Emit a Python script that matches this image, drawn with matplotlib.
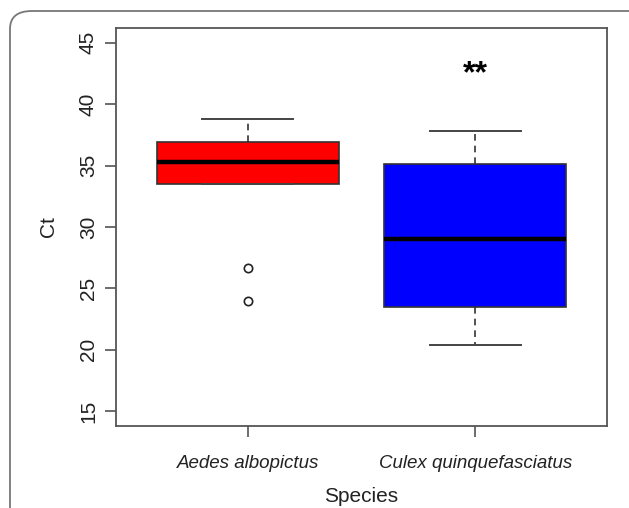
import matplotlib
matplotlib.use("Agg")
import matplotlib.pyplot as plt
from matplotlib.patches import FancyBboxPatch

plt.rcParams['font.family'] = ['Liberation Sans', 'DejaVu Sans']

# box statistics
species = ["Aedes albopictus", "Culex quinquefasciatus"]
q1 = [33.5, 23.5]
med = [35.3, 29.0]
q3 = [36.9, 35.1]
whislo = [33.5, 20.4]
whishi = [38.8, 37.8]
fliers = [[26.7, 24.0], []]
colors = ["#ff0000", "#0000ff"]
yticks = [15, 20, 25, 30, 35, 40, 45]
signif = "**"
signif_y = 42.4

fig = plt.figure(figsize=(6.29, 5.08), dpi=100)
ax = fig.add_axes([116/629, 1-426/508, (607-116)/629, (426-28)/508])

stats = []
for i in range(len(species)):
    stats.append(dict(label=species[i], q1=q1[i], med=med[i], q3=q3[i],
                      whislo=whislo[i], whishi=whishi[i], fliers=fliers[i]))

bp = ax.bxp(stats, positions=[1, 2], widths=0.8, patch_artist=True,
            boxprops=dict(edgecolor="#333333", linewidth=1.2),
            medianprops=dict(color="black", linewidth=3.2, solid_capstyle="butt"),
            whiskerprops=dict(color="#333333", linewidth=1.2, linestyle=(0, (4, 3))),
            capprops=dict(color="#444444", linewidth=1.4),
            capwidths=0.4,
            flierprops=dict(marker="o", markersize=6, markerfacecolor="none",
                            markeredgecolor="#222222", markeredgewidth=1.2))
for patch, c in zip(bp["boxes"], colors):
    patch.set_facecolor(c)

ax.text(2, signif_y, signif, ha="center", va="center", fontsize=23, fontweight="bold")

ax.set_xlim(0.42, 2.58)
ax.set_ylim(13.8, 46.2)
ax.set_yticks(yticks)
ax.set_yticklabels([str(t) for t in yticks], rotation=90, va="center", fontsize=15, color="#222222")
ax.set_xticks([1, 2])
ax.set_xticklabels(species, fontsize=13.5, style="italic", color="#222222")
ax.tick_params(length=8, width=1.1, color="#444444")
ax.tick_params(axis="y", pad=5)
ax.tick_params(axis="x", pad=13)
for s in ax.spines.values():
    s.set_color("#555555")
    s.set_linewidth(1.3)

ax.set_ylabel("Ct", fontsize=15, color="#222222", labelpad=15)
ax.set_xlabel("Species", fontsize=15, color="#222222", labelpad=11)

frame = FancyBboxPatch((10/629, -0.1), 1.2, 1-11/508+0.1,
                       boxstyle="round,pad=0,rounding_size=0.035",
                       transform=fig.transFigure, facecolor="none",
                       edgecolor="#777777", linewidth=1.3, clip_on=False)
fig.patches.append(frame)

fig.savefig("out.png", dpi=100)
